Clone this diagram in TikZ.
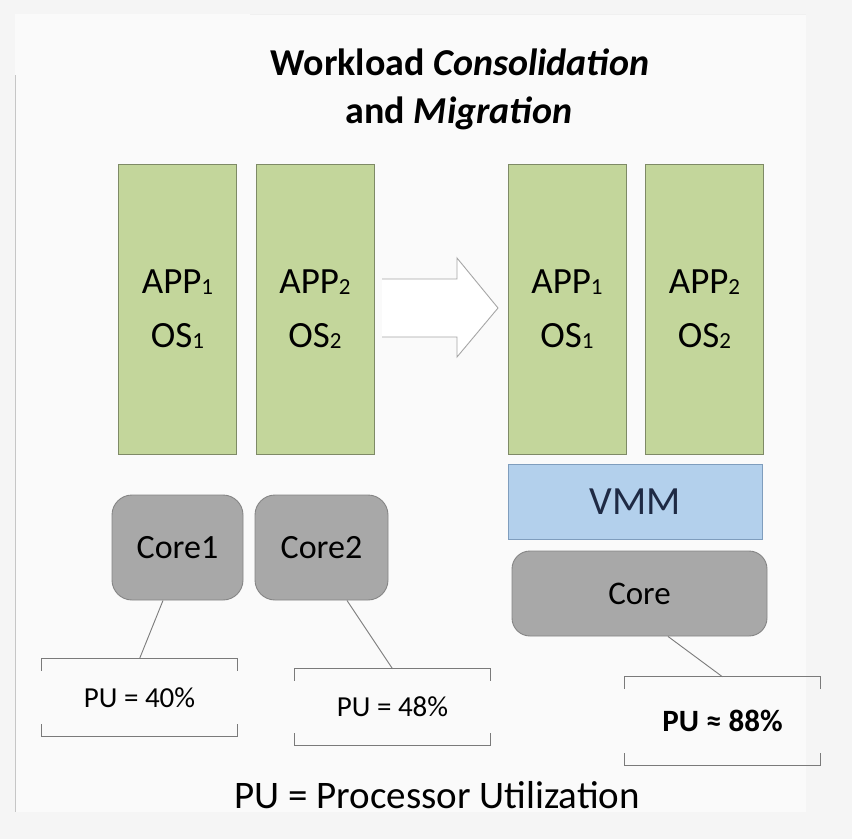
\documentclass[tikz,border=0pt]{standalone}
\usepackage{fontspec}
\setmainfont{Carlito}
\definecolor{bgout}{HTML}{F5F5F5}
\definecolor{bgin}{HTML}{FAFAFA}
\definecolor{appgreen}{HTML}{C3D69B}
\definecolor{appedge}{HTML}{7E8A66}
\definecolor{vmmblue}{HTML}{B3D0EC}
\definecolor{vmmedge}{HTML}{7F9DBD}
\definecolor{vmmtext}{HTML}{1F2A44}
\definecolor{coregray}{HTML}{A8A8A8}
\definecolor{coreedge}{HTML}{858585}
\definecolor{lineg}{HTML}{7A7A7A}
\newcommand\sbs[1]{\raisebox{-1.5pt}{\fontsize{23}{23}\selectfont #1}}
\begin{document}
\begin{tikzpicture}[x=1pt,y=-1pt,
  appbox/.style={draw=appedge,line width=0.9pt,fill=appgreen,minimum width=118pt,minimum height=290pt,inner sep=0pt,align=center,font=\fontsize{37}{54}\selectfont},
  corebox/.style={draw=coreedge,line width=0.9pt,fill=coregray,rounded corners=20pt,inner sep=0pt,font=\fontsize{34}{40}\selectfont},
  pubox/.style={minimum width=195pt,inner sep=0pt,font=\fontsize{29}{34}\selectfont},
  bracket/.style={draw=lineg,line width=1.2pt},
  link/.style={draw=lineg,line width=0.9pt}]
\useasboundingbox (0,0) rectangle (852,839);
\fill[bgout] (0,0) rectangle (852,839);
\fill[bgin] (15,14) rectangle (806,812);
\draw[gray!45,line width=0.8pt] (15,75) -- (15,812);
\draw[gray!12,line width=0.8pt] (250,14) -- (806,14);

% title
\node[anchor=base,inner sep=0pt,font=\fontsize{38}{44}\selectfont\bfseries] (t1) at (460,75) {Workload \textit{Consolidation}};
\node[anchor=base,inner sep=0pt,font=\fontsize{38}{44}\selectfont\bfseries] (t2) at (459,123) {and \textit{Migration}};

% app boxes
\node[appbox] (a1) at (177.5,309) {APP\sbs{1}\\OS\sbs{1}};
\node[appbox] (a2) at (315,309) {APP\sbs{2}\\OS\sbs{2}};
\node[appbox] (a3) at (567,309) {APP\sbs{1}\\OS\sbs{1}};
\node[appbox] (a4) at (704.5,309) {APP\sbs{2}\\OS\sbs{2}};

% arrow
\fill[white] (382,279) -- (457,279) -- (457,258) -- (498,308) -- (457,357) -- (457,337) -- (382,337) -- cycle;
\draw[gray!70,line width=0.9pt,line join=miter] (382,279) -- (457,279) -- (457,258) -- (498,308) -- (457,357) -- (457,337) -- (382,337);

% VMM
\node[draw=vmmedge,line width=0.9pt,fill=vmmblue,minimum width=254pt,minimum height=75pt,inner sep=0pt,text=vmmtext,font=\fontsize{40}{46}\selectfont] (vmm) at (635,501.5) {VMM};

% cores
\node[corebox,minimum width=131pt,minimum height=105pt] (c1) at (177.5,547.5) {Core1};
\node[corebox,minimum width=133pt,minimum height=105pt] (c2) at (321.5,547.5) {Core2};
\node[corebox,minimum width=255pt,minimum height=85pt,rounded corners=18pt,font=\fontsize{33}{40}\selectfont] (c3) at (639.5,593.5) {Core};

% PU boxes
\node[pubox,minimum height=77pt] (p1) at (139.5,697.5) {PU = 40\%};
\node[pubox,minimum height=76pt] (p2) at (392.5,707) {PU = 48\%};
\node[pubox,minimum height=88pt,font=\fontsize{31}{36}\selectfont\bfseries] (p3) at (722.5,721) {PU ≈ 88\%};
\foreach \p in {p1,p2,p3}{
  \draw[bracket] ([yshift=-12pt]\p.north west) -- (\p.north west) -- (\p.north east) -- ([yshift=-12pt]\p.north east);
  \draw[bracket] ([yshift=12pt]\p.south west) -- (\p.south west) -- (\p.south east) -- ([yshift=12pt]\p.south east);
}

% connectors
\draw[link] ([xshift=-14.5pt]c1.south) -- (p1.north);
\draw[link] ([xshift=25.5pt]c2.south) -- (p2.north);
\draw[link] ([xshift=28.5pt]c3.south) -- (p3.north);

% legend
\node[inner sep=0pt,font=\fontsize{39}{44}\selectfont] (leg) at (437,795) {PU = Processor Utilization};
\end{tikzpicture}
\end{document}
